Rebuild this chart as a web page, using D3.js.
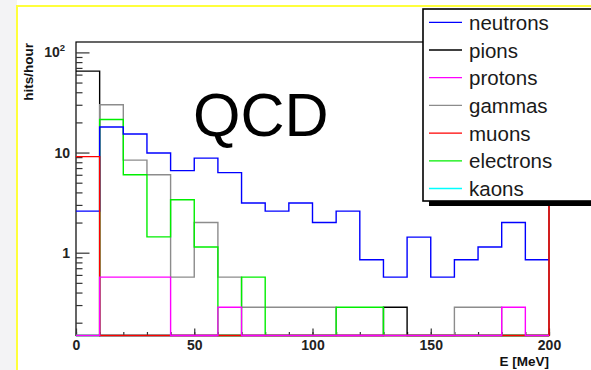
<!DOCTYPE html>
<html>
<head>
<meta charset="utf-8">
<script src="https://cdn.jsdelivr.net/npm/d3@7"></script>
<style>
  html, body { margin: 0; padding: 0; background: #ffffff; }
  svg { display: block; font-family: "Liberation Sans", Arial, sans-serif; }
</style>
</head>
<body>
<div id="chart"></div>
<script>
// Bin edges (MeV), 10 MeV wide bins from 0 to 200
const binEdges = d3.range(0, 201, 10);

// hits/hour per bin (0 = empty bin)
const neutrons  = [2.6, 18, 15.3, 9.9, 6.6, 8.8, 6.3, 3.13, 2.6, 3.13, 2.0, 2.6, 0.85, 0.57, 1.43, 0.57, 0.85, 1.14, 2.0, 0.85];
const pions     = [65, 0, 0, 0, 0, 0, 0, 0, 0, 0, 0, 0, 0, 0.285, 0, 0, 0, 0, 0, 0];
const protons   = [0, 0.57, 0.57, 0.57, 0, 0, 0.285, 0, 0, 0, 0, 0, 0, 0, 0, 0, 0, 0, 0.285, 0];
const gammas    = [0, 30, 8.4, 6.0, 0.57, 2.0, 0.57, 0.285, 0.285, 0.285, 0.285, 0, 0, 0, 0, 0, 0.285, 0.285, 0, 0];
const muons     = [9.1, 0, 0, 0, 0, 0, 0, 0, 0, 0, 0, 0, 0, 0, 0, 0, 0, 0, 0, 0];
const electrons = [0, 21.4, 6.0, 1.44, 3.38, 1.14, 0, 0.57, 0, 0, 0, 0.285, 0.285, 0, 0, 0, 0, 0, 0, 0];
const kaons     = [0, 0, 0, 0, 0, 0, 0, 0, 0, 0, 0, 0, 0, 0, 0, 0, 0, 0, 0, 0];

const legendNames  = ['neutrons', 'pions', 'protons', 'gammas', 'muons', 'electrons', 'kaons'];
const legendColors = ['#0000ff', '#000000', '#ff00ff', '#8c8c8c', '#ff0000', '#00ee00', '#00ffff'];

const xTickValues = [0, 50, 100, 150, 200];
const yMajorTicks = [1, 10, 100];

const width = 591, height = 370;
const frame = { left: 76, right: 549, top: 42, bottom: 335.5 };

const svg = d3.select('#chart').append('svg')
    .attr('width', width)
    .attr('height', height);

// faint grey outside the yellow canvas border
svg.append('rect').attr('x', 0).attr('y', 0).attr('width', 17).attr('height', height).attr('fill', '#f3f3f5');
svg.append('rect')
    .attr('x', 17).attr('y', 6)
    .attr('width', width).attr('height', height)
    .attr('fill', '#ffffff')
    .attr('stroke', '#ffff3c')
    .attr('stroke-width', 2);

// Scales
const x = d3.scaleLinear().domain([0, 200]).range([frame.left, frame.right]);
const y = d3.scaleLog().domain([0.149, 127]).range([frame.bottom, frame.top]);

// Frame
svg.append('rect')
    .attr('x', frame.left).attr('y', frame.top)
    .attr('width', frame.right - frame.left).attr('height', frame.bottom - frame.top)
    .attr('fill', 'none')
    .attr('stroke', '#000')
    .attr('stroke-width', 1.2);

// Y axis: minor ticks then major ticks with labels (ticks point into the frame)
const yMinor = [];
[0.1, 1, 10].forEach(dec => d3.range(2, 10).forEach(m => {
    const v = dec * m;
    if (v > y.domain()[0] && v < y.domain()[1]) yMinor.push(v);
}));

const yAxisMinor = svg.append('g')
    .attr('transform', `translate(${frame.left},0)`)
    .call(d3.axisLeft(y).tickValues(yMinor).tickSizeInner(-6.5).tickSizeOuter(0).tickFormat(''));
yAxisMinor.select('.domain').remove();

const yAxisMajor = svg.append('g')
    .attr('transform', `translate(${frame.left},0)`)
    .call(d3.axisLeft(y).tickValues(yMajorTicks).tickSizeInner(-13.5).tickSizeOuter(0).tickPadding(6)
        .tickFormat(d => d === 100 ? '10' : String(d)));
yAxisMajor.select('.domain').remove();
yAxisMajor.selectAll('text')
    .attr('font-size', 14).attr('font-weight', 'bold').attr('fill', '#222')
    .attr('font-family', '"Liberation Sans", Arial, sans-serif')
    .each(function (d) {
        if (d === 100) {
            d3.select(this).attr('x', -11);
            d3.select(this).append('tspan').attr('dy', -6).attr('font-size', 9.5).text('2');
        }
    });

// X axis
const xAxisMinor = svg.append('g')
    .attr('transform', `translate(0,${frame.bottom})`)
    .call(d3.axisBottom(x).tickValues(binEdges).tickSizeInner(-3.5).tickSizeOuter(0).tickFormat(''));
xAxisMinor.select('.domain').remove();

const xAxisMajor = svg.append('g')
    .attr('transform', `translate(0,${frame.bottom})`)
    .call(d3.axisBottom(x).tickValues(xTickValues).tickSizeInner(-7).tickSizeOuter(0).tickPadding(5));
xAxisMajor.select('.domain').remove();
xAxisMajor.selectAll('text')
    .attr('font-size', 14).attr('font-weight', 'bold').attr('fill', '#222')
    .attr('font-family', '"Liberation Sans", Arial, sans-serif');

svg.selectAll('.tick line').attr('stroke', '#333').attr('stroke-width', 1.2);

// Axis titles
svg.append('text')
    .attr('transform', `translate(33,${frame.top + 1}) rotate(-90)`)
    .attr('text-anchor', 'end')
    .attr('font-size', 13.5).attr('font-weight', 'bold').attr('fill', '#111')
    .text('hits/hour');

svg.append('text')
    .attr('x', frame.right).attr('y', 366)
    .attr('text-anchor', 'end')
    .attr('font-size', 13.5).attr('font-weight', 'bold').attr('fill', '#111')
    .text('E [MeV]');

// Histograms, drawn in the stacking order seen in the picture
const series = {
    neutrons, pions, protons, gammas, muons, electrons, kaons
};
const drawOrder = ['kaons', 'pions', 'gammas', 'electrons', 'neutrons', 'muons', 'protons'];

const yMin = y.domain()[0];
const step = d3.line()
    .x(d => x(d[0]))
    .y(d => y(Math.max(d[1], yMin)))
    .curve(d3.curveStepAfter);

drawOrder.forEach(name => {
    const vals = series[name];
    const pts = vals.map((v, i) => [binEdges[i], v]);
    pts.push([200, vals[vals.length - 1]]);
    // muons: closing edge at 200 MeV runs up to the top of the frame
    if (name === 'muons') pts.push([200, y.domain()[1]]);
    svg.append('path')
        .datum(pts)
        .attr('d', step)
        .attr('fill', 'none')
        .attr('stroke', legendColors[legendNames.indexOf(name)])
        .attr('stroke-width', 1.4);
});

// Label
svg.append('text')
    .attr('x', 193).attr('y', 136)
    .attr('font-size', 61)
    .attr('fill', '#000')
    .text('QCD');

// Legend with drop shadow
const legend = { x: 423, y: 9, w: 200, h: 192 };
svg.append('rect')
    .attr('x', legend.x + 6).attr('y', legend.y + 5)
    .attr('width', legend.w).attr('height', legend.h)
    .attr('fill', '#000');
svg.append('rect')
    .attr('x', legend.x).attr('y', legend.y)
    .attr('width', legend.w).attr('height', legend.h)
    .attr('fill', '#fff')
    .attr('stroke', '#000')
    .attr('stroke-width', 1.6);

const entries = svg.append('g').selectAll('g')
    .data(legendNames)
    .join('g')
    .attr('transform', (d, i) => `translate(0,${22.3 + i * 27.7})`);

entries.append('line')
    .attr('x1', 429).attr('x2', 462)
    .attr('y1', 0).attr('y2', 0)
    .attr('stroke', (d, i) => legendColors[i])
    .attr('stroke-width', 1.3);

entries.append('text')
    .attr('x', 469).attr('y', 7.6)
    .attr('font-size', 20.5)
    .attr('fill', '#1a1a1a')
    .text(d => d);
</script>
</body>
</html>
